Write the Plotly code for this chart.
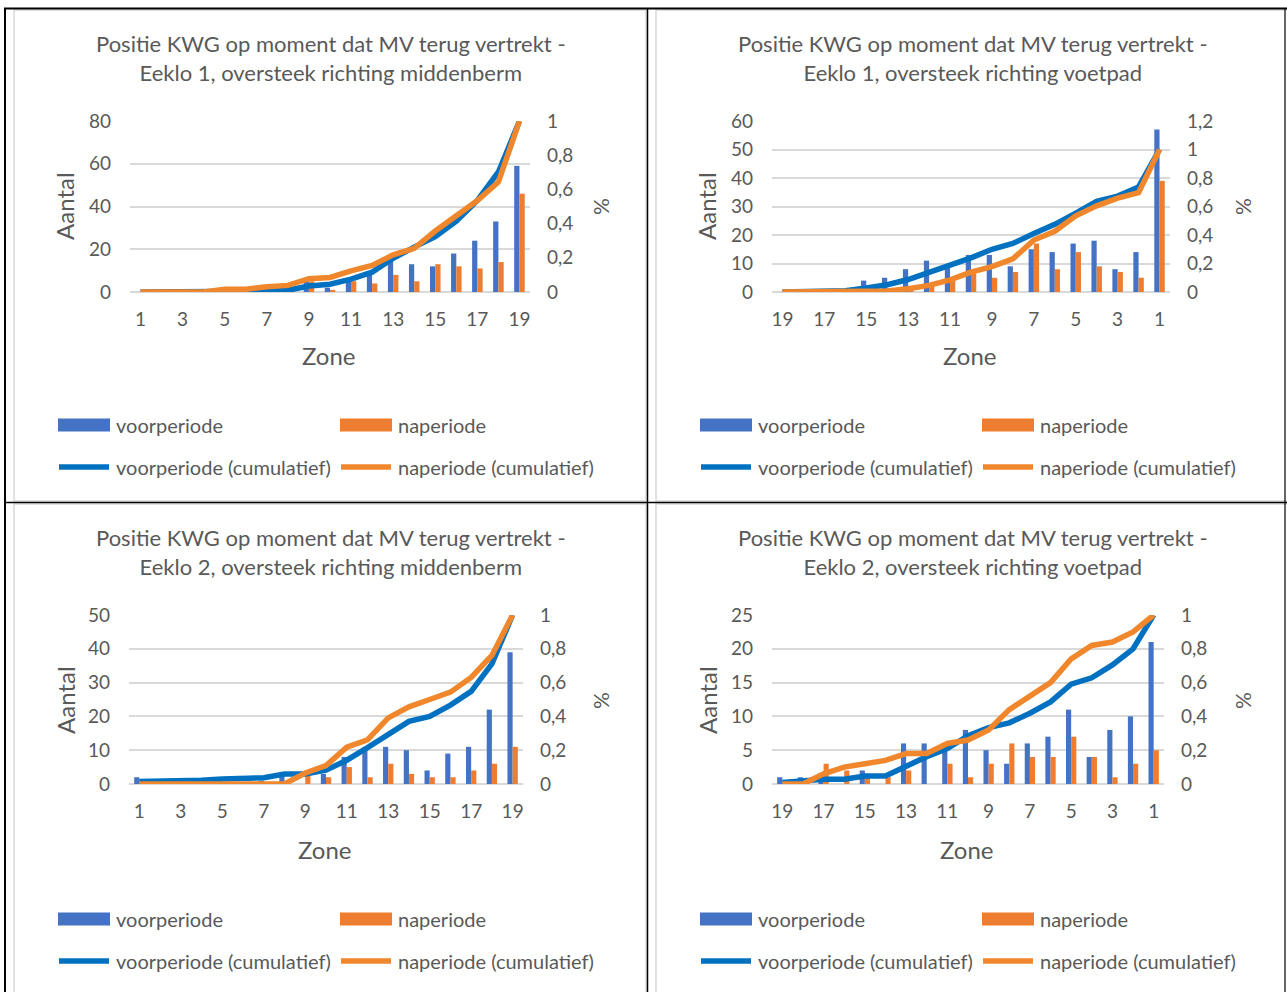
import numpy as np
import plotly.graph_objects as go

W, H = 1287, 992

# ---------------- data ----------------
zones_up = [str(z) for z in range(1, 20)]          # 1 .. 19
zones_down = [str(z) for z in range(19, 0, -1)]    # 19 .. 1
ticks_up = [str(z) for z in range(1, 20, 2)]
ticks_down = [str(z) for z in range(19, 0, -2)]

titles = [
    "Positie KWG op moment dat MV terug vertrekt -<br>Eeklo 1, oversteek richting middenberm",
    "Positie KWG op moment dat MV terug vertrekt -<br>Eeklo 1, oversteek richting voetpad",
    "Positie KWG op moment dat MV terug vertrekt -<br>Eeklo 2, oversteek richting middenberm",
    "Positie KWG op moment dat MV terug vertrekt -<br>Eeklo 2, oversteek richting voetpad",
]
series_names = ["voorperiode", "naperiode",
                "voorperiode (cumulatief)", "naperiode (cumulatief)"]
x_title = "Zone"
y_title = "Aantal"
y2_title = "%"

# Eeklo 1, middenberm (zones 1 -> 19)
voor_e1_mb = [0, 0, 0, 0, 0, 1, 0, 1, 5, 2, 6, 8, 16, 13, 12, 18, 24, 33, 59]
na_e1_mb = [0, 0, 0, 0, 2, 0, 2, 1, 5, 1, 5, 4, 8, 5, 13, 12, 11, 14, 46]
# Eeklo 1, voetpad (zones 19 -> 1)
voor_e1_vp = [0, 0, 1, 1, 4, 5, 8, 11, 9, 13, 13, 9, 15, 14, 17, 18, 8, 14, 57]
na_e1_vp = [0, 0, 0, 0, 0, 1, 2, 3, 5, 7, 5, 7, 17, 8, 14, 9, 7, 5, 39]
# Eeklo 2, middenberm (zones 1 -> 19)
voor_e2_mb = [2, 0, 1, 0, 1, 0, 1, 3, 0, 3, 8, 10, 11, 10, 4, 9, 11, 22, 39]
na_e2_mb = [0, 0, 0, 0, 0, 0, 0, 0, 3, 2, 5, 2, 6, 3, 2, 2, 4, 6, 11]
# Eeklo 2, voetpad (zones 19 -> 1)
voor_e2_vp = [1, 1, 1, 0, 2, 0, 6, 6, 5, 8, 5, 3, 6, 7, 11, 4, 8, 10, 21]
na_e2_vp = [0, 0, 3, 2, 1, 1, 2, 0, 3, 1, 3, 6, 4, 4, 7, 4, 1, 3, 5]

# ---------------- style ----------------
FONT = "Lato"
TXT = "#595959"
GRID = "#D9D9D9"
BAR_BLUE = "#4472C4"
BAR_ORANGE = "#ED7D31"
LINE_BLUE = "#0070C0"
LINE_ORANGE = "#F0872C"

charts = [
    dict(title=titles[0], cats=zones_up, ticks=ticks_up, voor=voor_e1_mb, na=na_e1_mb,
         ymax=80, dtick=20, y2max=1.0, box=(130, 530, 121, 292), dx=0, dy=0),
    dict(title=titles[1], cats=zones_down, ticks=ticks_down, voor=voor_e1_vp, na=na_e1_vp,
         ymax=60, dtick=10, y2max=1.2, box=(772, 1170, 121, 292), dx=642, dy=0),
    dict(title=titles[2], cats=zones_up, ticks=ticks_up, voor=voor_e2_mb, na=na_e2_mb,
         ymax=50, dtick=10, y2max=1.0, box=(129, 523, 615, 784), dx=0, dy=494),
    dict(title=titles[3], cats=zones_down, ticks=ticks_down, voor=voor_e2_vp, na=na_e2_vp,
         ymax=25, dtick=5, y2max=1.0, box=(772, 1164, 615, 784), dx=642, dy=494),
]


def px(x):
    return x / W


def py(y):
    return 1 - y / H


fig = go.Figure()
layout = dict(
    template="none",
    width=W, height=H, margin=dict(l=0, r=0, t=0, b=0, pad=0, autoexpand=False),
    paper_bgcolor="white", plot_bgcolor="rgba(0,0,0,0)",
    showlegend=False, barmode="group", bargap=0.5, bargroupgap=0,
    separators=",.", font=dict(family=FONT, color=TXT),
)
annotations = []
shapes = []

for i, c in enumerate(charts):
    n = i + 1
    xa = "x" if n == 1 else f"x{n}"
    ya = "y" if n == 1 else f"y{2 * n - 1}"
    yb = f"y{2 * n}"
    xkey = "xaxis" if n == 1 else f"xaxis{n}"
    ykey = "yaxis" if n == 1 else f"yaxis{2 * n - 1}"
    y2key = f"yaxis{2 * n}"
    x0, x1, yt, ybm = c["box"]
    dx, dy = c["dx"], c["dy"]

    voor = np.array(c["voor"], dtype=float)
    na = np.array(c["na"], dtype=float)
    cum_voor = np.cumsum(voor) / voor.sum()
    cum_na = np.cumsum(na) / na.sum()

    fig.add_trace(go.Bar(x=c["cats"], y=voor, name=series_names[0], marker_color=BAR_BLUE,
                         marker_line_width=0, xaxis=xa, yaxis=ya))
    fig.add_trace(go.Bar(x=c["cats"], y=na, name=series_names[1], marker_color=BAR_ORANGE,
                         marker_line_width=0, xaxis=xa, yaxis=ya))
    fig.add_trace(go.Scatter(x=c["cats"], y=cum_voor, name=series_names[2], mode="lines",
                             line=dict(color=LINE_BLUE, width=5.5), cliponaxis=False,
                             xaxis=xa, yaxis=yb))
    fig.add_trace(go.Scatter(x=c["cats"], y=cum_na, name=series_names[3], mode="lines",
                             line=dict(color=LINE_ORANGE, width=5.5), cliponaxis=False,
                             xaxis=xa, yaxis=yb))

    layout[xkey] = dict(
        domain=[px(x0), px(x1)], anchor=ya, type="category", automargin=False,
        categoryorder="array", categoryarray=c["cats"],
        tickmode="array", tickvals=c["ticks"], ticktext=c["ticks"],
        showgrid=False, showline=False, zeroline=False, ticks="",
        tickfont=dict(size=19, color=TXT), ticklabelstandoff=14,
    )
    layout[ykey] = dict(
        domain=[py(ybm), py(yt)], anchor=xa, range=[0, c["ymax"]], dtick=c["dtick"],
        automargin=False, showgrid=True, gridcolor=GRID, gridwidth=1.5,
        zeroline=True, zerolinecolor=GRID, zerolinewidth=1.5,
        showline=False, ticks="", tickfont=dict(size=19, color=TXT),
        ticklabelstandoff=18,
    )
    layout[y2key] = dict(
        overlaying=ya, side="right", anchor=xa, range=[0, c["y2max"]], dtick=0.2,
        automargin=False, showgrid=False, zeroline=False, showline=False, ticks="",
        tickfont=dict(size=19, color=TXT), ticklabelstandoff=16,
    )

    # chart title
    annotations.append(dict(text=c["title"], x=px(331 + dx), y=py(58 + dy), xref="paper",
                            yref="paper", showarrow=False, xanchor="center", yanchor="middle",
                            align="center", font=dict(size=22, color=TXT)))
    # axis titles
    annotations.append(dict(text=x_title, x=px((x0 + x1) / 2 - 1), y=py(355 + dy), xref="paper",
                            yref="paper", showarrow=False, xanchor="center", yanchor="middle",
                            font=dict(size=24, color=TXT)))
    annotations.append(dict(text=y_title, x=px(65 + dx), y=py(206 + dy), xref="paper",
                            yref="paper", showarrow=False, textangle=-90, xanchor="center",
                            yanchor="middle", font=dict(size=24, color=TXT)))
    annotations.append(dict(text=y2_title, x=px(600 + dx), y=py(207 + dy), xref="paper",
                            yref="paper", showarrow=False, textangle=-90, xanchor="center",
                            yanchor="middle", font=dict(size=21, color=TXT)))

    # legend (drawn in the chart area below the plot)
    leg = [
        (58, 425, BAR_BLUE, "bar", series_names[0]),
        (340, 425, BAR_ORANGE, "bar", series_names[1]),
        (58, 467, LINE_BLUE, "line", series_names[2]),
        (340, 467, LINE_ORANGE, "line", series_names[3]),
    ]
    for lx, ly, col, kind, label in leg:
        lx += dx
        ly += dy
        if kind == "bar":
            shapes.append(dict(type="rect", xref="paper", yref="paper", x0=px(lx), x1=px(lx + 52),
                               y0=py(ly + 6.5), y1=py(ly - 6.5), fillcolor=col, line_width=0))
        else:
            shapes.append(dict(type="line", xref="paper", yref="paper", x0=px(lx + 1), x1=px(lx + 51),
                               y0=py(ly), y1=py(ly), line=dict(color=col, width=5.5)))
        annotations.append(dict(text=label, x=px(lx + 56), y=py(ly), xref="paper", yref="paper",
                                showarrow=False, xanchor="left", yanchor="middle",
                                font=dict(size=20, color=TXT)))

# chart-area borders (light grey)
for (bx0, by0, bx1, by1) in [(14, 10, 646, 501), (656, 10, 1300, 501),
                             (14, 504, 646, 1000), (656, 504, 1300, 1000)]:
    shapes.append(dict(type="rect", xref="paper", yref="paper", x0=px(bx0), x1=px(bx1),
                       y0=py(by1), y1=py(by0), line=dict(color=GRID, width=1.5),
                       fillcolor="rgba(0,0,0,0)", layer="below"))
# table grid lines (black)
for (lx0, ly0, lx1, ly1, w) in [(5, 8, 5, 992, 2), (647.5, 8, 647.5, 992, 1.5),
                                (1285, 8, 1285, 992, 1.2), (4, 8.5, 1287, 8.5, 2),
                                (4, 502.5, 1287, 502.5, 1.5)]:
    shapes.append(dict(type="line", xref="paper", yref="paper", x0=px(lx0), x1=px(lx1),
                       y0=py(ly0), y1=py(ly1), line=dict(color="black", width=w)))

layout["annotations"] = annotations
layout["shapes"] = shapes
fig.update_layout(**layout)

fig.write_html("out.html", config={"displayModeBar": False},
               post_script="document.documentElement.style.margin='0';"
                           "document.body.style.margin='0';"
                           "document.body.style.overflow='hidden';")
